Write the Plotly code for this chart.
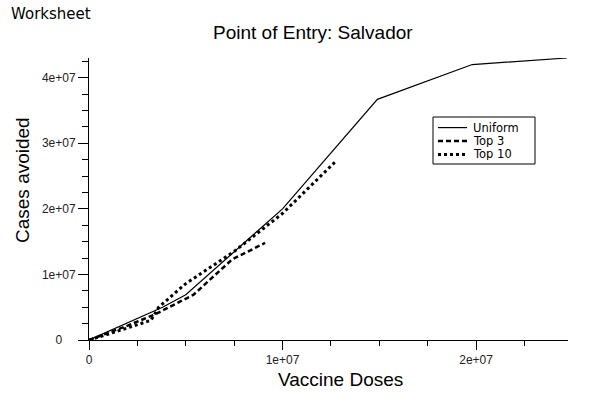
import plotly.graph_objects as go

# Data
uniform_x = [0, 3.8e6, 5.0e6, 10.0e6, 14.9e6, 19.8e6, 24.7e6]
uniform_y = [0, 5.0e6, 6.9e6, 20.0e6, 36.7e6, 42.0e6, 43.0e6]

top3_x = [0, 2.0e6, 3.4e6, 5.4e6, 7.4e6, 9.1e6]
top3_y = [0, 2.2e6, 3.9e6, 6.9e6, 12.3e6, 14.8e6]

top10_x = [0, 1.0e6, 3.2e6, 3.6e6, 5.0e6, 7.5e6, 10.0e6, 12.7e6]
top10_y = [0, 0.9e6, 3.0e6, 5.0e6, 8.6e6, 13.5e6, 19.3e6, 27.1e6]

series_names = ["Uniform", "Top 3", "Top 10"]

x_tickvals = [0, 1e7, 2e7]
x_ticktext = ["0", "1e+07", "2e+07"]
y_tickvals = [0, 1e7, 2e7, 3e7, 4e7]
y_ticktext = ["0\u00a0\u00a0\u00a0\u00a0", "1e+07", "2e+07", "3e+07", "4e+07"]

W, H = 600, 400
pl, pr, pt, pb = 89, 568, 58, 340


def px2paper(px, py):
    return (px - pl) / (pr - pl), (pb - py) / (pb - pt)


styles = [dict(color="black", width=1.2),
          dict(color="black", width=2.5, dash="5px,3px"),
          dict(color="black", width=3, dash="3px,3px")]

fig = go.Figure()
for name, xs, ys, st in zip(series_names, [uniform_x, top3_x, top10_x],
                            [uniform_y, top3_y, top10_y], styles):
    fig.add_trace(go.Scatter(x=xs, y=ys, mode="lines", name=name, line=st,
                             showlegend=False))

axis_common = dict(showgrid=False, zeroline=False, showline=True, linecolor="black",
                   linewidth=1, ticks="outside", tickcolor="black",
                   tickfont=dict(family="Liberation Sans, Arial", size=12, color="#222"))

annotations = []
shapes = []


def add_text(text, px, py, size, family="Liberation Sans, Arial", anchor="center",
             angle=0, height=None):
    x, y = px2paper(px, py)
    a = dict(text=text, x=x, y=y, xref="paper", yref="paper",
             showarrow=False, textangle=angle,
             font=dict(family=family, size=size, color="black"),
             xanchor=anchor, yanchor="middle")
    if height is not None:
        a["height"] = height
        a["borderpad"] = 0
    annotations.append(a)


add_text("Point of Entry: Salvador", 313, 33, 19)
add_text("Vaccine Doses", 340, 379, 19)
add_text("Cases avoided", 22, 180, 19, angle=-90)
add_text("Worksheet", 9, 14, 15, family="DejaVu Sans", anchor="left")

# Legend box (drawn manually for compact row spacing)
x0, y0 = px2paper(433, 117)
x1, y1 = px2paper(535, 164)
shapes.append(dict(type="rect", xref="paper", yref="paper", x0=x0, y0=y0, x1=x1, y1=y1,
                   line=dict(color="black", width=1), fillcolor="white", layer="above"))
row_y = [127.6, 141.0, 154.4]
for name, st, ry in zip(series_names, styles, row_y):
    lx0, ly = px2paper(438, ry)
    lx1, _ = px2paper(467, ry)
    shapes.append(dict(type="line", xref="paper", yref="paper", x0=lx0, x1=lx1, y0=ly, y1=ly,
                       line=st, layer="above"))
    add_text(name, 472, ry, 11.5, family="DejaVu Sans", anchor="left", height=12)

fig.update_layout(
    width=W, height=H,
    margin=dict(l=pl, r=W - pr, t=pt, b=H - pb, autoexpand=False),
    paper_bgcolor="white", plot_bgcolor="white",
    showlegend=False,
    xaxis=dict(range=[0, 2.475e7], tickvals=x_tickvals, ticktext=x_ticktext,
               ticklen=9, tickwidth=1, automargin=False,
               minor=dict(ticks="outside", ticklen=5, dtick=2.5e6, tick0=0,
                          tickcolor="black", showgrid=False),
               **axis_common),
    yaxis=dict(range=[0, 4.3e7], tickvals=y_tickvals, ticktext=y_ticktext,
               ticklen=10, tickwidth=1, automargin=False,
               minor=dict(ticks="outside", ticklen=6, dtick=2.5e6, tick0=0,
                          tickcolor="black", showgrid=False),
               **axis_common),
    annotations=annotations,
    shapes=shapes,
)

fig.write_html("out.html", config={"displayModeBar": False})

# remove the default 8px body margin of the browser
with open("out.html", "r", encoding="utf-8") as f:
    html = f.read()
html = html.replace("<body>", '<body style="margin:0;padding:0;">', 1)
html = html.replace("<head>", '<head><style>html,body{margin:0;padding:0;}</style>', 1)
with open("out.html", "w", encoding="utf-8") as f:
    f.write(html)
